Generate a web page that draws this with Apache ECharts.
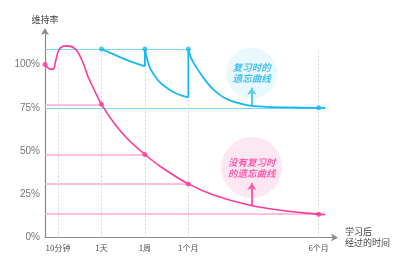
<!DOCTYPE html>
<html><head><meta charset="utf-8">
<script src="https://cdn.jsdelivr.net/npm/echarts@6/dist/echarts.min.js"></script>
<style>html,body{margin:0;padding:0;background:#fff}#c{width:400px;height:263px}</style>
</head><body><div id="c"></div>
<script>
// x positions of time ticks (value axis units)
const tickPos = [0.3, 1.3, 2.3, 3.3, 6.3];
const tickLabels = ['10分钟', '1天', '1周', '1个月', '6个月'];
const yTicks = [0, 25, 50, 75, 100];
// forgetting curve without review
const pinkCurve = [[0,100],[0.12,97.4],[0.19,97.4],[0.24,101.6],[0.31,108],[0.39,110.3],[0.5,110.8],[0.69,109.2],[0.85,102.6],[1.0,92.5],[1.15,84.5],[1.3,77],[1.61,65.5],[1.92,56.5],[2.3,48],[2.69,40.5],[3.3,31],[3.88,24.6],[4.72,18.6],[5.41,15.8],[6.3,13.5],[6.45,13.3]];
const pinkPoints = [[0,100],[1.3,77],[2.3,48],[3.3,31],[6.3,13.5]];
// forgetting curve with review (segments)
const cyanSeg1 = [[1.3,109],[1.61,105.6],[1.92,102.3],[2.3,99]];
const cyanSeg2 = [[2.3,109],[2.41,98.5],[2.57,92],[2.69,88.8],[2.85,85.8],[3.0,83.6],[3.15,82.1],[3.3,81]];
const cyanSeg3 = [[3.3,109],[3.37,103.5],[3.5,97.8],[3.65,92.3],[3.88,85.5],[4.19,80],[4.65,76.6],[5.1,75.6],[5.7,75.2],[6.3,75],[6.45,75]];
const cyanJumps = [[2.3,99],[2.3,109],'-',[3.3,81],[3.3,109]];
const cyanPoints = [[1.3,109],[2.3,109],[3.3,109],[6.3,75]];
// reference levels: [value, x end]
const pinkLevels = [[77,1.3],[48,2.3],[31,3.3],[13.5,6.3]];
const cyanLevels = [[109,3.3],[75,6.45]];
const gridTops = [100, 109, 109, 109, 109];
const bubbles = [
  {name:'复习时的\n遗忘曲线', pos:[4.76,95], size:51, fill:'#e3f6fd', color:'#1ab2ee', arrow:[76.4,86.6], arrowColor:'#5cc9f2'},
  {name:'没有复习时\n的遗忘曲线', pos:[4.76,40.5], size:61, fill:'#fde1f0', color:'#ff3a9c', arrow:[18.8,31.5], arrowColor:'#ff5aab'}
];

const chart = echarts.init(document.getElementById('c'));
const series = [];
series.push({type:'line', data:[], silent:true, z:1,
  markLine:{silent:true, symbol:['none','none'], label:{show:false},
    lineStyle:{color:'#d6d6d6', type:[2,2], width:1},
    data: tickPos.map((x,i)=>[{coord:[x,0]},{coord:[x,gridTops[i]]}])}});
series.push({type:'line', data:[], silent:true, z:2,
  markLine:{silent:true, symbol:['none','none'], label:{show:false},
    lineStyle:{color:'#ffaad4', type:'solid', width:1.5},
    data: pinkLevels.map(l=>[{coord:[0,l[0]]},{coord:[l[1],l[0]]}])}});
series.push({type:'line', data:[], silent:true, z:2,
  markLine:{silent:true, symbol:['none','none'], label:{show:false},
    lineStyle:{color:'#7dd7f7', type:'solid', width:1.2},
    data: cyanLevels.map(l=>[{coord:[0,l[0]]},{coord:[l[1],l[0]]}])}});
bubbles.forEach(b=>{
  series.push({type:'scatter', data:[{value:b.pos, name:b.name}], symbol:'circle', symbolSize:b.size, z:3, silent:true,
    itemStyle:{color:b.fill},
    label:{show:true, position:'inside', formatter:'{b}', color:b.color, fontSize:9.5, fontWeight:'bold', fontStyle:'italic', lineHeight:11, fontFamily:'Noto Sans CJK SC'},
    markLine:{silent:true, symbol:['none','arrow'], symbolSize:[7,7], label:{show:false},
      lineStyle:{color:b.arrowColor, type:'solid', width:2},
      data:[[{coord:[b.pos[0],b.arrow[0]]},{coord:[b.pos[0],b.arrow[1]]}]]}
  });
});
series.push({type:'line', data:pinkCurve, smooth:0.35, showSymbol:false, z:5, lineStyle:{color:'#ff3a9c', width:1.6}});
series.push({type:'scatter', data:pinkPoints, symbolSize:5, z:6, itemStyle:{color:'#ff3a9c'}});
[cyanSeg1,cyanSeg2,cyanSeg3].forEach(s=>series.push({type:'line', data:s, smooth:0.35, showSymbol:false, z:5, lineStyle:{color:'#1ab8f0', width:1.8}}));
series.push({type:'line', data:cyanJumps, smooth:false, showSymbol:false, connectNulls:false, z:5, lineStyle:{color:'#1ab8f0', width:1.8}});
series.push({type:'scatter', data:cyanPoints, symbolSize:5, z:6, itemStyle:{color:'#1ab8f0'}});

chart.setOption({
  animation:false,
  grid:{left:45, right:64, top:30, bottom:25.5},
  xAxis:{type:'value', min:0, max:6.7,
    name:'学习后\n经过的时间', nameLocation:'end', nameGap:9,
    nameTextStyle:{color:'#444', fontSize:9, lineHeight:11, align:'left', fontFamily:'Noto Sans CJK SC'},
    axisLine:{show:true, lineStyle:{color:'#8a8a8a', width:1.2}, symbol:['none','arrow'], symbolSize:[6,7], symbolOffset:[0,2]},
    axisTick:{show:false}, splitLine:{show:false},
    axisLabel:{customValues:tickPos, formatter:(v)=>{const i=tickPos.findIndex(p=>Math.abs(p-v)<1e-6);return i>=0?tickLabels[i]:'';}, color:'#555', fontSize:8, margin:6, fontFamily:'Noto Sans CJK SC'}
  },
  yAxis:{type:'value', min:0, max:120,
    name:'维持率', nameLocation:'end', nameGap:6,
    nameTextStyle:{color:'#444', fontSize:9, align:'center', fontFamily:'Noto Sans CJK SC'},
    axisLine:{show:true, lineStyle:{color:'#8a8a8a', width:1.2}, symbol:['none','arrow'], symbolSize:[6,7], symbolOffset:[0,2]},
    axisTick:{show:false}, splitLine:{show:false},
    axisLabel:{customValues:yTicks, formatter:'{value}%', color:'#777', fontSize:10, margin:5, fontFamily:'Liberation Sans'}
  },
  series:series
});
</script></body></html>
